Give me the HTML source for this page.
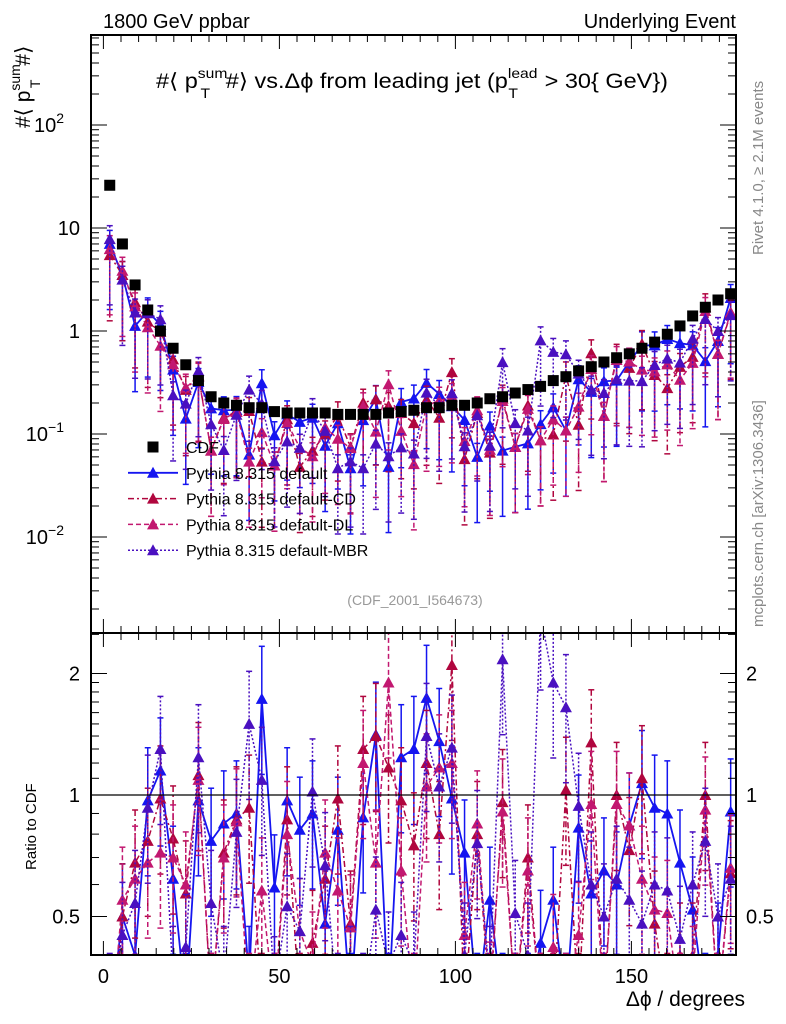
<!DOCTYPE html>
<html><head><meta charset="utf-8"><style>
html,body{margin:0;padding:0;background:#fff;width:786px;height:1024px;overflow:hidden;}
svg{display:block;font-family:"Liberation Sans",sans-serif;}
</style></head><body>
<svg id="chart" width="786" height="1024" viewBox="0 0 786 1024" xmlns="http://www.w3.org/2000/svg">
<defs>
<clipPath id="clipMain"><rect x="91" y="35" width="645" height="598"/></clipPath>
<clipPath id="clipRatio"><rect x="91" y="633" width="645" height="322"/></clipPath>
</defs>
<text x="103" y="28" font-size="20">1800 GeV ppbar</text>
<text x="736" y="28" font-size="20" text-anchor="end">Underlying Event</text>
<text x="412" y="88" font-size="21" text-anchor="middle" textLength="512" lengthAdjust="spacingAndGlyphs">#⟨ p<tspan font-size="14" dy="-10">sum</tspan><tspan font-size="14" dx="-24" dy="20">T</tspan><tspan dx="14" dy="-10">#⟩ vs.Δϕ from leading jet  (p</tspan><tspan font-size="14" dy="-10">lead</tspan><tspan font-size="14" dx="-26" dy="20">T</tspan><tspan dx="18" dy="-10"> &gt; 30{ GeV})</tspan></text>
<text transform="translate(30,128) rotate(-90)" font-size="21">#⟨ p<tspan font-size="14" dy="-10">sum</tspan><tspan font-size="14" dx="-24" dy="20">T</tspan><tspan dx="14" dy="-10">#⟩</tspan></text>
<text transform="translate(36,870) rotate(-90)" font-size="15">Ratio to CDF</text>
<text x="745" y="1006" font-size="21" text-anchor="end">Δϕ / degrees</text>
<text transform="translate(763,255) rotate(-90)" font-size="15" fill="#888">Rivet 4.1.0, ≥ 2.1M events</text>
<text transform="translate(763,627) rotate(-90)" font-size="15" fill="#888">mcplots.cern.ch [arXiv:1306.3436]</text>
<text x="415" y="605" font-size="14" fill="#999" text-anchor="middle">(CDF_2001_I564673)</text>
<g id="gMain" clip-path="url(#clipMain)"></g>
<g id="gRatio" clip-path="url(#clipRatio)"></g>
<g id="gAxes"></g>
<g id="gLegend"></g>
</svg>
<script>
const cdfValues=[26,7.0,2.8,1.6,1.0,0.68,0.47,0.33,0.23,0.2,0.19,0.18,0.18,0.165,0.16,0.16,0.16,0.16,0.155,0.155,0.155,0.155,0.16,0.165,0.17,0.18,0.18,0.19,0.19,0.2,0.22,0.23,0.25,0.27,0.29,0.33,0.36,0.41,0.45,0.5,0.55,0.6,0.68,0.78,0.93,1.12,1.4,1.7,2.0,2.3];
const ratioDefault=[0.27,0.5,0.4,0.97,1.15,0.62,0.3,0.97,0.77,0.85,0.9,0.35,1.73,0.59,0.97,0.82,0.9,0.48,0.82,0.3,0.88,1.41,0.3,1.24,1.3,1.74,1.36,0.98,0.72,0.3,0.55,0.3,0.3,0.3,0.43,0.55,0.3,0.83,0.57,0.65,0.6,0.84,1.07,0.93,0.9,0.68,0.52,0.3,0.4,0.91];
const ratioCD=[0.21,0.5,0.68,0.77,0.98,0.78,0.57,1.12,0.3,0.72,0.87,0.93,0.3,0.3,0.87,0.3,0.43,0.62,0.98,0.48,1.3,1.4,1.17,0.97,0.75,1.2,0.8,2.1,0.3,0.8,0.3,0.96,0.3,0.7,0.3,0.3,1.03,0.3,1.35,0.3,1.0,0.73,1.1,0.48,0.3,0.4,0.4,1.0,0.3,0.64];
const ratioDL=[0.24,0.55,0.62,0.68,0.72,0.7,0.6,1.09,0.3,0.7,0.86,0.3,0.58,0.3,0.8,0.46,0.38,0.72,0.58,0.47,1.2,0.68,1.9,0.65,0.3,1.05,1.17,1.2,0.45,0.85,0.32,0.91,0.3,0.65,0.3,0.42,0.3,0.45,0.95,0.3,0.95,0.84,0.62,0.52,0.51,0.3,0.35,0.92,0.3,0.66];
const ratioMBR=[0.3,0.45,0.54,0.93,1.3,0.35,0.42,1.24,0.54,0.35,0.81,1.5,1.09,0.33,0.53,0.46,1.02,0.67,0.3,0.35,0.3,0.52,0.38,0.45,0.38,1.4,1.05,1.31,0.4,0.76,0.35,2.17,0.51,0.4,2.8,1.9,1.65,0.94,0.6,0.5,0.62,0.55,0.48,0.6,0.58,0.44,0.6,0.77,0.5,0.62];
const xTickLabels=["0","50","100","150"];
const mainTickLabels=[["10","2"],["10",""],["1",""],["10","−1"],["10","−2"]];
const ratioTickLabels=["2","1","0.5"];

const NS="http://www.w3.org/2000/svg";
const L=91,R=736,MT=35,MB=633,RB=955;
function X(d){return 103.4+3.52*d;}
function YM(v){return 331-103*Math.log10(v);}
function YR(r){return 795-121.5*Math.log2(r);}
function binCenter(i){return 1.8+3.6*i;}
function mk(tag,attrs,parent){const e=document.createElementNS(NS,tag);for(const k in attrs)e.setAttribute(k,attrs[k]);parent.appendChild(e);return e;}
const gMain=document.getElementById('gMain'),gRatio=document.getElementById('gRatio'),gAxes=document.getElementById('gAxes'),gLegend=document.getElementById('gLegend');

function tri(cx,cy,color,parent,name){
  const p=mk('polygon',{points:`${cx-6},${cy+5} ${cx+6},${cy+5} ${cx},${cy-6}`,fill:color},parent);
  
  
}
function errBar(x,y1,y2,s,parent,name){
  const g=mk('g',{},parent);
  
  
  mk('line',{x1:x,x2:x,y1:y1,y2:y2,stroke:s.color,'stroke-width':1.5,'stroke-dasharray':s.dash},g);
  mk('line',{x1:x-3,x2:x+3,y1:y1,y2:y1,stroke:s.color,'stroke-width':1.5},g);
  mk('line',{x1:x-3,x2:x+3,y1:y2,y2:y2,stroke:s.color,'stroke-width':1.5},g);
}
const series=[
 {name:'pythia-default',ratios:ratioDefault,color:'#1515f0',dash:'',w:1.8},
 {name:'pythia-cd',ratios:ratioCD,color:'#b0063e',dash:'6,3,2,3',w:1.5},
 {name:'pythia-dl',ratios:ratioDL,color:'#c21870',dash:'5,3',w:1.5},
 {name:'pythia-mbr',ratios:ratioMBR,color:'#4a10c0',dash:'2,2',w:1.5}
];
const relErr=0.35;
series.forEach(s=>{
  const gm=mk('g',{},gMain);
  const gr=mk('g',{},gRatio);
  let pm=[],pr=[];
  s.ratios.forEach((r,i)=>{
    const v=r*cdfValues[i],x=X(binCenter(i));
    pm.push(x+','+YM(v));pr.push(x+','+YR(r));
    errBar(x,YM(v*(1+relErr)),YM(Math.max(v*(1-relErr*2.2),1e-6)),s,gm,'error-bar');
    errBar(x,YR(r*(1+relErr)),YR(Math.max(r*(1-relErr),0.05)),s,gr,'ratio-error-bar');
  });
  const lm=mk('polyline',{points:pm.join(' '),fill:'none',stroke:s.color,'stroke-width':s.w,'stroke-dasharray':s.dash},gm);
  
  const lr=mk('polyline',{points:pr.join(' '),fill:'none',stroke:s.color,'stroke-width':s.w,'stroke-dasharray':s.dash},gr);
  
  s.ratios.forEach((r,i)=>{const x=X(binCenter(i));tri(x,YM(r*cdfValues[i]),s.color,gm,s.name+'-point');tri(x,YR(r),s.color,gr,s.name+'-ratio-point');});
});
cdfValues.forEach((v,i)=>{
  const x=X(binCenter(i)),y=YM(v);
  const r=mk('rect',{x:x-5.5,y:y-5.5,width:11,height:11,fill:'#000'},gMain);
  
});
const one=mk('line',{x1:L,x2:R,y1:YR(1),y2:YR(1),stroke:'#000','stroke-width':1.2},gRatio);


[[MT,MB,'main-frame'],[MB,RB,'ratio-frame']].forEach(f=>{
  const r=mk('rect',{x:L,y:f[0],width:R-L,height:f[1]-f[0],fill:'none',stroke:'#000','stroke-width':2},gAxes);
  
});
for(let d=0;d<=180;d+=5){
  const x=X(d);if(x<L||x>R)continue;
  const len=d%50===0?14:7;
  [[MT,1],[MB,-1],[MB,1],[RB,-1]].forEach(t=>{
    const ln=mk('line',{x1:x,x2:x,y1:t[0],y2:t[0]+t[1]*len,stroke:'#000','stroke-width':1},gAxes);
    
  });
}
xTickLabels.forEach(s=>{
  const t=mk('text',{x:X(+s),y:983,'font-size':20,'text-anchor':'middle'},gAxes);t.textContent=s;
  
});
for(let e=-3;e<=2;e++){for(let m=1;m<10;m++){
  const y=YM(m*Math.pow(10,e));if(y<MT||y>MB)continue;
  const len=m===1?16:8;
  [[L,1],[R,-1]].forEach(t=>{const ln=mk('line',{x1:t[0],x2:t[0]+t[1]*len,y1:y,y2:y,stroke:'#000','stroke-width':1},gAxes);
  });
}}
mainTickLabels.forEach((lab,k)=>{
  const e=2-k,y=YM(Math.pow(10,e))+7;
  const t=mk('text',{x:lab[1]?64:80,y:y,'font-size':20,'text-anchor':'end'},gAxes);
  t.textContent=lab[0];
  if(lab[1]){const s=mk('tspan',{'font-size':14,dy:-9},t);s.textContent=lab[1];}
  
});
[0.4,0.5,0.6,0.7,0.8,0.9,1,1.1,1.2,1.3,1.4,1.5,1.6,1.7,1.8,1.9,2,2.5].forEach(r=>{
  const y=YR(r);if(y<MB||y>RB)return;
  const len=(r===1||r===2||r===0.5)?16:8;
  [[L,1],[R,-1]].forEach(t=>{const ln=mk('line',{x1:t[0],x2:t[0]+t[1]*len,y1:y,y2:y,stroke:'#000','stroke-width':1},gAxes);
  });
});
ratioTickLabels.forEach(s=>{
  const y=YR(+s)+7;
  const t=mk('text',{x:80,y:y,'font-size':20,'text-anchor':'end'},gAxes);t.textContent=s;
  
  const t2=mk('text',{x:746,y:y,'font-size':20},gAxes);t2.textContent=s;
  
});
const legendNames=['CDF','Pythia 8.315 default','Pythia 8.315 default-CD','Pythia 8.315 default-DL','Pythia 8.315 default-MBR'];
legendNames.forEach((n,k)=>{
  const y=447+25.8*k;
  const g=mk('g',{},gLegend);
  if(k===0){mk('rect',{x:147.5,y:y-5.5,width:11,height:11,fill:'#000'},g);}
  else{const s=series[k-1];mk('line',{x1:128,x2:178,y1:y,y2:y,stroke:s.color,'stroke-width':s.w,'stroke-dasharray':s.dash},g);tri(153,y,s.color,g,'legend-marker');}
  const t=mk('text',{x:186,y:y+6,'font-size':16},g);t.textContent=n;
});
</script>
</body></html>
